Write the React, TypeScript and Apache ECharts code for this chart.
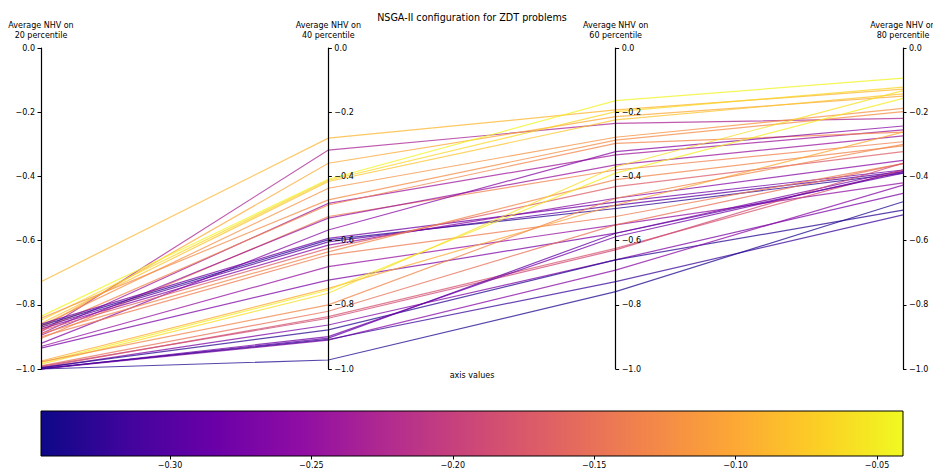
import React, { useEffect, useRef } from "react";
import * as echarts from "echarts";

const axisNames = [
  "Average NHV on\n20 percentile",
  "Average NHV on\n40 percentile",
  "Average NHV on\n60 percentile",
  "Average NHV on\n80 percentile",
];

// [20p, 40p, 60p, 80p]
const lineValues: number[][] = [
  [-0.728, -0.281, -0.193, -0.128],
  [-0.885, -0.318, -0.235, -0.219],
  [-0.872, -0.359, -0.214, -0.15],
  [-0.836, -0.409, -0.164, -0.094],
  [-0.848, -0.412, -0.198, -0.122],
  [-0.858, -0.416, -0.224, -0.143],
  [-0.865, -0.437, -0.278, -0.188],
  [-0.842, -0.473, -0.287, -0.198],
  [-0.89, -0.484, -0.333, -0.255],
  [-0.878, -0.489, -0.297, -0.262],
  [-0.905, -0.525, -0.38, -0.292],
  [-0.895, -0.53, -0.364, -0.274],
  [-0.92, -0.567, -0.323, -0.243],
  [-0.86, -0.593, -0.48, -0.38],
  [-0.865, -0.598, -0.5, -0.39],
  [-0.87, -0.604, -0.49, -0.385],
  [-0.875, -0.614, -0.468, -0.35],
  [-0.88, -0.624, -0.432, -0.323],
  [-0.89, -0.635, -0.41, -0.305],
  [-0.9, -0.645, -0.525, -0.36],
  [-0.93, -0.681, -0.551, -0.42],
  [-0.935, -0.723, -0.577, -0.38],
  [-0.975, -0.749, -0.489, -0.262],
  [-0.98, -0.754, -0.39, -0.157],
  [-0.985, -0.764, -0.37, -0.133],
  [-0.978, -0.8, -0.468, -0.3],
  [-0.99, -0.82, -0.551, -0.36],
  [-0.995, -0.837, -0.624, -0.38],
  [-0.992, -0.842, -0.629, -0.359],
  [-0.997, -0.863, -0.66, -0.453],
  [-0.996, -0.878, -0.66, -0.505],
  [-1.0, -0.899, -0.588, -0.385],
  [-1.0, -0.904, -0.577, -0.39],
  [-1.0, -0.91, -0.692, -0.427],
  [-0.998, -0.908, -0.728, -0.52],
  [-1.0, -0.972, -0.759, -0.479],
];

// colour value of each line (colorbar scale)
const colorValues: number[] = [
  -0.09, -0.23, -0.1, -0.045, -0.065, -0.08, -0.12, -0.125, -0.24, -0.13,
  -0.135, -0.245, -0.26, -0.28, -0.33, -0.3, -0.26, -0.17, -0.13, -0.14,
  -0.25, -0.27, -0.1, -0.05, -0.06, -0.13, -0.15, -0.18, -0.19, -0.27,
  -0.33, -0.28, -0.29, -0.26, -0.32, -0.335,
];

const colorMin = -0.3456;
const colorMax = -0.0408;
const colorTicks = [-0.3, -0.25, -0.2, -0.15, -0.1, -0.05];

const plasma = [
  "#0d0887", "#41049d", "#6a00a8", "#8f0da4", "#b12a90", "#cc4778",
  "#e16462", "#f2844b", "#fca636", "#fcce25", "#f0f921",
];

function hexToRgb(h: string) {
  return [parseInt(h.slice(1, 3), 16), parseInt(h.slice(3, 5), 16), parseInt(h.slice(5, 7), 16)];
}

function plasmaColor(v: number) {
  let t = (v - colorMin) / (colorMax - colorMin);
  t = Math.max(0, Math.min(1, t));
  const p = t * (plasma.length - 1);
  const i = Math.min(plasma.length - 2, Math.floor(p));
  const f = p - i;
  const a = hexToRgb(plasma[i]);
  const b = hexToRgb(plasma[i + 1]);
  const c = a.map((x, k) => Math.round(x + (b[k] - x) * f));
  return `rgb(${c[0]},${c[1]},${c[2]})`;
}

const minus = (s: string) => s.replace("-", "\u2212");

export default function App() {
  const ref = useRef<HTMLDivElement>(null);
  useEffect(() => {
    document.body.style.margin = "0";
    const chart = echarts.init(ref.current!, null, { renderer: "svg" });
    const font = "DejaVu Sans";
    const parallelAxis = axisNames.map((name, i) => ({
      dim: i,
      name,
      nameLocation: "end",
      nameGap: 8,
      nameTextStyle: { fontFamily: font, fontSize: 8, color: "#000", lineHeight: 10, align: "center" },
      min: -1,
      max: 0,
      interval: 0.2,
      axisLine: { lineStyle: { color: "#000", width: 1.2 } },
      axisTick: { show: true, length: i === 0 ? -3.5 : 3.5, lineStyle: { color: "#000", width: 1 } },
      axisLabel: {
        margin: i === 0 ? -6 : 6,
        align: i === 0 ? "right" : "left",
        fontFamily: font,
        fontSize: 8,
        color: "#000",
        formatter: (v: number) => minus(v.toFixed(1)),
      },
      splitLine: { show: false },
    }));
    const stops = plasma.map((c, i) => ({ offset: i / (plasma.length - 1), color: c }));
    chart.setOption({
      animation: false,
      parallel: { left: 41, right: 30, top: 48, bottom: 103 },
      parallelAxis,
      grid: { left: 41, right: 30, top: 411, height: 45 },
      xAxis: {
        type: "value",
        min: colorMin,
        max: colorMax,
        axisLine: { show: false },
        splitLine: { show: false },
        axisTick: { show: true, length: 3.5, customValues: colorTicks, lineStyle: { color: "#000" } },
        axisLabel: {
          customValues: colorTicks,
          fontFamily: font,
          fontSize: 8,
          color: "#000",
          margin: 5,
          formatter: (v: number) => minus(v.toFixed(2)),
        },
      },
      yAxis: { type: "value", min: 0, max: 1, show: false },
      graphic: [
        {
          type: "text",
          x: 472,
          y: 12,
          style: { text: "NSGA-II configuration for ZDT problems", font: `9.6px ${font}`, fill: "#000", textAlign: "center" },
        },
        {
          type: "text",
          x: 472,
          y: 371,
          style: { text: "axis values", font: `8px ${font}`, fill: "#000", textAlign: "center" },
        },
      ],
      series: [
        {
          type: "parallel",
          lineStyle: { width: 1.2, opacity: 0.75 },
          emphasis: { disabled: true },
          data: lineValues.map((v, i) => ({ value: v, lineStyle: { color: plasmaColor(colorValues[i]) } })),
        },
        {
          type: "custom",
          xAxisIndex: 0,
          yAxisIndex: 0,
          silent: true,
          data: [[colorMin, colorMax]],
          renderItem: (params: any, api: any) => {
            const p0 = api.coord([api.value(0), 1]);
            const p1 = api.coord([api.value(1), 0]);
            return {
              type: "rect",
              shape: { x: p0[0], y: p0[1], width: p1[0] - p0[0], height: p1[1] - p0[1] },
              style: {
                fill: new echarts.graphic.LinearGradient(0, 0, 1, 0, stops),
                stroke: "#000",
                lineWidth: 1,
              },
            };
          },
        },
      ],
    });
    return () => chart.dispose();
  }, []);
  return <div ref={ref} style={{ width: 933, height: 472 }} />;
}
